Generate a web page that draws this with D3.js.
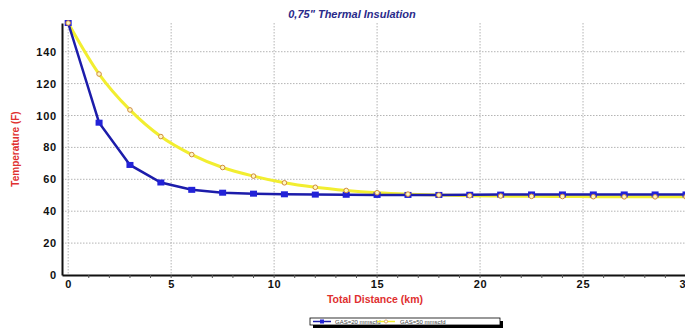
<!DOCTYPE html>
<html>
<head>
<meta charset="utf-8">
<script src="https://cdn.jsdelivr.net/npm/d3@7"></script>
<style>
  body { margin: 0; background: #fff; }
  text { font-family: "Liberation Sans", Arial, sans-serif; }
</style>
</head>
<body>
<div id="container"></div>
<script>
// Distance along the line (km), one point every 1.5 km
const distance = [0, 1.5, 3, 4.5, 6, 7.5, 9, 10.5, 12, 13.5, 15, 16.5, 18, 19.5, 21, 22.5, 24, 25.5, 27, 28.5, 30];

// Temperature (F) for each gas rate
const gas20 = [158, 95.5, 69, 58, 53.4, 51.6, 51, 50.6, 50.4, 50.3, 50.2, 50.2, 50.2, 50.3, 50.4, 50.5, 50.5, 50.5, 50.5, 50.5, 50.5];
const gas50 = [158, 126, 103.5, 86.8, 75.5, 67.4, 62, 57.8, 55, 53, 51.6, 50.7, 50.1, 49.7, 49.5, 49.3, 49.2, 49.1, 49, 49, 49];

const xTicks = [0, 5, 10, 15, 20, 25, 30];
const yTicks = [0, 20, 40, 60, 80, 100, 120, 140];
const seriesNames = ["GAS=20 mmscfd", "GAS=50 mmscfd"];

const width = 685;
const height = 328;
const tickFont = "DejaVu Sans, Verdana, sans-serif";

const x = d3.scaleLinear().domain([-0.3, 30]).range([62, 686]);
const y = d3.scaleLinear().domain([0, 158]).range([275, 23]);

const svg = d3.select("#container").append("svg")
    .attr("width", width)
    .attr("height", height);

// Title
svg.append("text")
    .attr("x", 352).attr("y", 18)
    .attr("text-anchor", "middle")
    .attr("font-size", 11).attr("font-weight", "bold").attr("font-style", "italic")
    .attr("fill", "#2a2a8a")
    .text("0,75\" Thermal Insulation");

// Grid
svg.append("g")
    .selectAll("line")
    .data(xTicks)
    .join("line")
    .attr("x1", d => x(d)).attr("x2", d => x(d))
    .attr("y1", y(158)).attr("y2", y(0))
    .attr("stroke", "#b4b4b4").attr("stroke-dasharray", "1.5,1.5");

svg.append("g")
    .selectAll("line")
    .data(yTicks.filter(d => d > 0))
    .join("line")
    .attr("x1", x(-0.3)).attr("x2", width)
    .attr("y1", d => y(d)).attr("y2", d => y(d))
    .attr("stroke", "#b4b4b4").attr("stroke-dasharray", "1.5,1.5");

// Axes
const xAxis = svg.append("g")
    .attr("transform", `translate(0,${y(0)})`)
    .call(d3.axisBottom(x).tickValues(xTicks).tickSize(0).tickPadding(5).tickFormat(d3.format("d")));
xAxis.select(".domain").attr("stroke", "#111").attr("stroke-width", 2);
xAxis.selectAll("text").attr("font-size", 11).attr("font-weight", "bold").attr("fill", "#111")
    .attr("font-family", tickFont).attr("letter-spacing", 0.8);

// minor ticks on x axis
svg.append("g")
    .selectAll("line")
    .data(d3.range(1, 31))
    .join("line")
    .attr("x1", d => x(d)).attr("x2", d => x(d))
    .attr("y1", y(0)).attr("y2", y(0) + 3)
    .attr("stroke", "#555");

const yAxis = svg.append("g")
    .attr("transform", `translate(${x(-0.3)},0)`)
    .call(d3.axisLeft(y).tickValues(yTicks).tickSize(0).tickPadding(5));
yAxis.select(".domain").attr("stroke", "#111").attr("stroke-width", 2);
yAxis.selectAll("text").attr("font-size", 11).attr("font-weight", "bold").attr("fill", "#111")
    .attr("font-family", tickFont).attr("letter-spacing", 0.8);

// Axis labels
svg.append("text")
    .attr("transform", "translate(19,149) rotate(-90)")
    .attr("text-anchor", "middle")
    .attr("font-size", 10).attr("font-weight", "bold")
    .attr("fill", "#e03030")
    .text("Temperature (F)");

svg.append("text")
    .attr("x", 375).attr("y", 303)
    .attr("text-anchor", "middle")
    .attr("font-size", 10.5).attr("font-weight", "bold")
    .attr("font-family", tickFont)
    .attr("fill", "#e03030")
    .text("Total Distance (km)");

// Yellow series (GAS=50)
const pts50 = distance.map((d, i) => [d, gas50[i]]);
svg.append("path")
    .datum(pts50)
    .attr("fill", "none")
    .attr("stroke", "#f2ee30")
    .attr("stroke-width", 3)
    .attr("d", d3.line().x(d => x(d[0])).y(d => y(d[1])).curve(d3.curveMonotoneX));

// Blue series (GAS=20)
const pts20 = distance.map((d, i) => [d, gas20[i]]);
svg.append("path")
    .datum(pts20)
    .attr("fill", "none")
    .attr("stroke", "#1c1caa")
    .attr("stroke-width", 2.5)
    .attr("d", d3.line().x(d => x(d[0])).y(d => y(d[1])));

svg.append("g")
    .selectAll("rect")
    .data(pts20)
    .join("rect")
    .attr("x", d => x(d[0]) - 3.5).attr("y", d => y(d[1]) - 3)
    .attr("width", 7).attr("height", 6)
    .attr("fill", "#2222d8");

svg.append("g")
    .selectAll("circle")
    .data(pts50)
    .join("circle")
    .attr("cx", d => x(d[0])).attr("cy", d => y(d[1]))
    .attr("r", 2.3)
    .attr("fill", "#fff8c0")
    .attr("stroke", "#d08a40")
    .attr("stroke-width", 1);

// Legend
const legend = svg.append("g").attr("transform", "translate(310,318)");
legend.append("rect").attr("x", 3).attr("y", 3).attr("width", 190).attr("height", 7).attr("fill", "#000");
legend.append("rect").attr("x", 0).attr("y", 0).attr("width", 190).attr("height", 7)
    .attr("fill", "#fff").attr("stroke", "#000").attr("stroke-width", 0.8);

legend.append("line").attr("x1", 3).attr("x2", 21).attr("y1", 3.5).attr("y2", 3.5)
    .attr("stroke", "#1c1caa").attr("stroke-width", 1.5);
legend.append("rect").attr("x", 10).attr("y", 1.5).attr("width", 4).attr("height", 4).attr("fill", "#2222d8");
legend.append("text").attr("x", 25).attr("y", 5.6).attr("font-size", 6).attr("fill", "#444").text(seriesNames[0]);

legend.append("line").attr("x1", 67).attr("x2", 85).attr("y1", 3.5).attr("y2", 3.5)
    .attr("stroke", "#f2ee30").attr("stroke-width", 1.5);
legend.append("circle").attr("cx", 76).attr("cy", 3.5).attr("r", 1.6)
    .attr("fill", "#fff").attr("stroke", "#d08a40").attr("stroke-width", 0.7);
legend.append("text").attr("x", 90).attr("y", 5.6).attr("font-size", 6).attr("fill", "#444").text(seriesNames[1]);
</script>
</body>
</html>
